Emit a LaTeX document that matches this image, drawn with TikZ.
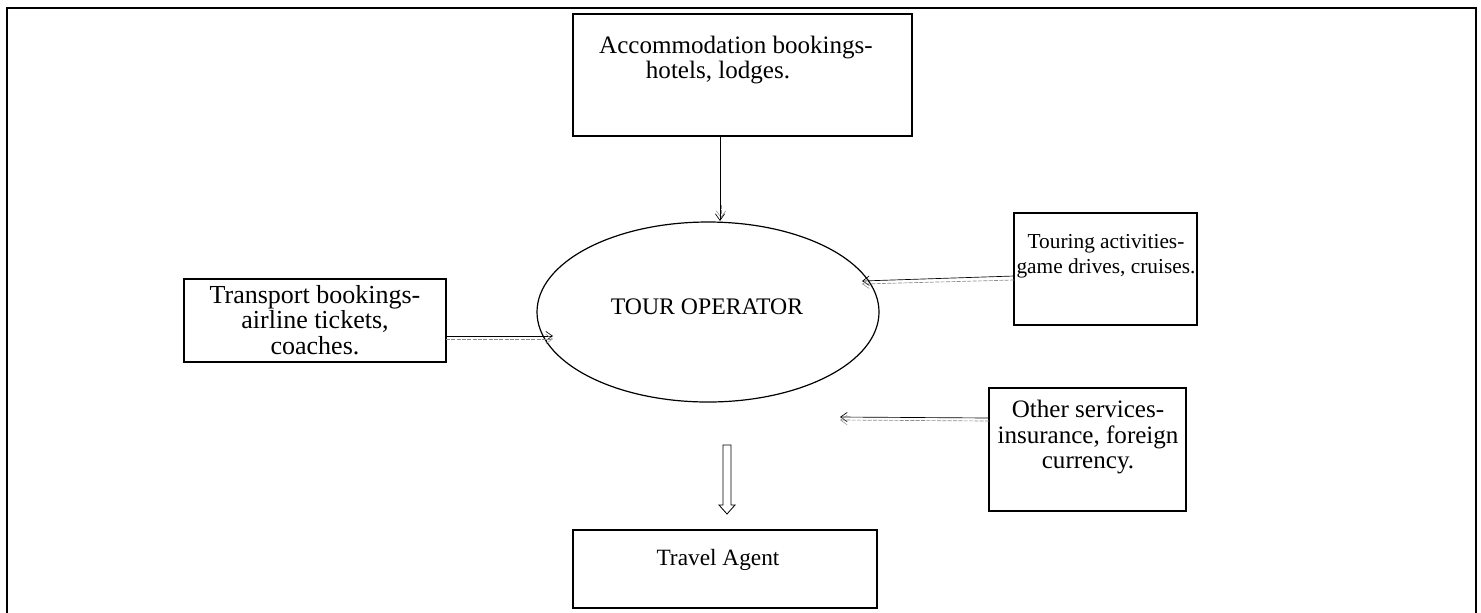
\documentclass[tikz,border=0pt]{standalone}
\usepackage{fontspec}
\setmainfont{Liberation Serif}
\usetikzlibrary{arrows.meta}
\begin{document}
\begin{tikzpicture}[x=0.75pt,y=-0.75pt,
  box/.style={draw=black,line width=0.9pt},
  txt/.style={font=\fontsize{18.8}{19}\selectfont,align=center,inner sep=0pt},
  arr/.style={line width=0.5pt,-{Straight Barb[length=5pt,width=7pt,line width=0.5pt]}},
  shadow/.style={draw=black!45,dashed,dash pattern=on 3pt off 1pt,line width=0.5pt,-{Straight Barb[length=5pt,width=7pt,line width=0.4pt]}}]
\useasboundingbox (0,0) rectangle (1481,612);
% frame
\draw[line width=1.6pt] (7,640) -- (7,8) -- (1476,8) -- (1476,640);
% boxes
\draw[box] (573,14) rectangle (912,136);
\node[txt] (acc) at (736,60) {Accommodation bookings-\\hotels, lodges.\hspace*{27pt}};
\coordinate (accB) at (720,136);
\draw[box] (184,279) rectangle (446,362);
\node[txt,font=\fontsize{19.5}{19}\selectfont] (tra) at (315,320) {Transport bookings-\\airline tickets,\\coaches.};
\coordinate (traR) at (446,336);
\draw[box] (1014,213) rectangle (1197,325);
\node[txt,font=\fontsize{16}{19}\selectfont] (tou) at (1106,256) {Touring activities-\\game drives, cruises.};
\coordinate (touL) at (1014,276);
\draw[box] (989,388) rectangle (1186,511);
\node[txt] (oth) at (1088,437) {Other services-\\insurance, foreign\\currency.};
\coordinate (othL) at (989,418);
\draw[box] (573,530) rectangle (877,608);
\node[txt,font=\fontsize{17.5}{19}\selectfont] (ta) at (718,560) {Travel Agent};
% ellipse
\draw[line width=0.9pt] (708,312) ellipse [x radius=171, y radius=90];
\node[txt,font=\fontsize{17.8}{19}\selectfont] (op) at (707,307) {TOUR OPERATOR};
\coordinate (opT) at (720,221);
\coordinate (opL) at (553,336);
\coordinate (opR) at (862,281);
\coordinate (opR2) at (840,417);
% arrows
\draw[shadow] (721,205) -- (721,218);
\draw[arr] (accB) -- (opT);
\draw[arr] (traR) -- (opL);
\draw[shadow] (446,339) -- (553,339);
\draw[arr] (touL) -- (opR);
\draw[shadow] (1014,280) -- (862,284);
\draw[arr] (othL) -- (opR2);
\draw[shadow] (989,421) -- (840,420);
% hollow block arrow
\draw[line width=0.6pt] (723,445) -- (731,445) -- (731,505) -- (735,505) -- (727,514) -- (719,505) -- (723,505) -- cycle;
\end{tikzpicture}
\end{document}
